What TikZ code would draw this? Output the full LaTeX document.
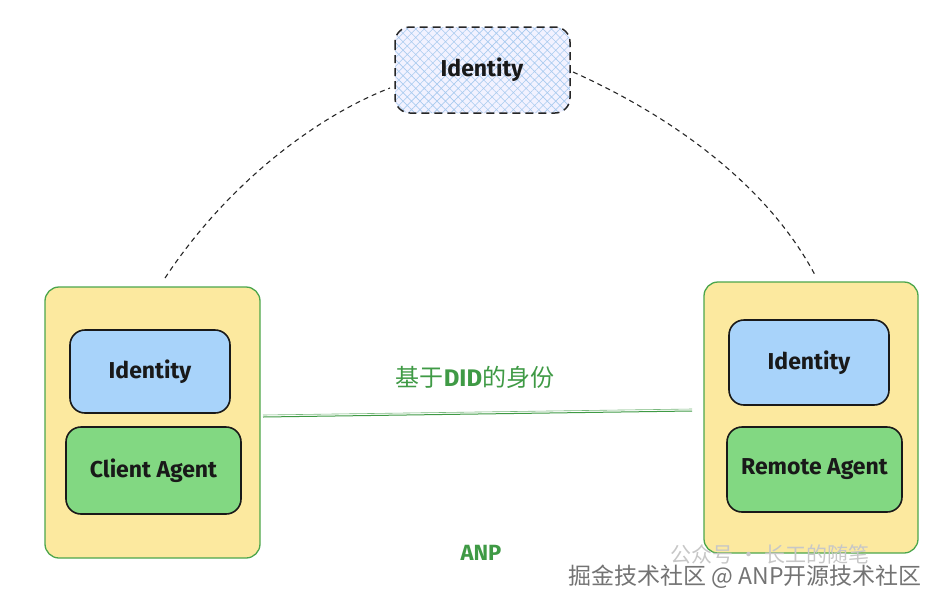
\documentclass[tikz,border=0pt]{standalone}
\usepackage{fontspec}
\setmainfont{Fira Sans}
\newfontfamily\cjk{Noto Sans CJK SC}
\usetikzlibrary{patterns.meta}
\definecolor{boxyellow}{HTML}{FCE99F}
\definecolor{boxgreen}{HTML}{4CA64C}
\definecolor{idblue}{HTML}{A8D3FA}
\definecolor{agentgreen}{HTML}{82D882}
\definecolor{hatchblue}{HTML}{A9CBEF}
\definecolor{labelgreen}{HTML}{3F9A45}
\begin{document}
\begin{tikzpicture}[x=1pt,y=-1pt,
  outerbox/.style={draw=boxgreen,fill=boxyellow,line width=1.3pt,rounded corners=14pt},
  idbox/.style={draw=black!90,fill=idblue,line width=1.6pt,rounded corners=15pt},
  agentbox/.style={draw=black!90,fill=agentgreen,line width=1.6pt,rounded corners=15pt},
  boxtext/.style={font=\bfseries\fontsize{23}{27}\selectfont,text=black!90},
  dashlink/.style={dashed,dash pattern=on 5pt off 4pt,line width=1.1pt,black!85}]
\useasboundingbox (0,0) rectangle (948,606);
% top identity
\path[fill=blue!5,rounded corners=15pt] (395,27) rectangle (570,113);
\path[pattern={Hatch[angle=45,distance=6pt,line width=0.6pt]},pattern color=hatchblue,rounded corners=15pt] (395,27) rectangle (570,113);
\draw[dashlink,line width=1.5pt,dash pattern=on 8pt off 5pt,rounded corners=15pt] (395,27) rectangle (570,113);
\node[boxtext] (topid) at (482,70) {Identity};
\coordinate (topL) at (390,88);
\coordinate (topR) at (573,72);
% left group
\node[outerbox,minimum width=215pt,minimum height=271pt] (leftouter) at (152.5,422.5) {};
\node[idbox,minimum width=160pt,minimum height=83pt] (leftid) at (150,371.5) {};
\node[boxtext] at (leftid.center) {Identity};
\node[agentbox,minimum width=175pt,minimum height=87pt] (client) at (153.5,470.5) {};
\node[boxtext] at (client.center) {Client Agent};
% right group
\node[outerbox,minimum width=214pt,minimum height=271pt] (rightouter) at (811,417.5) {};
\node[idbox,minimum width=160pt,minimum height=85pt] (rightid) at (809,362.5) {};
\node[boxtext] at (rightid.center) {Identity};
\node[agentbox,minimum width=175pt,minimum height=85pt] (remote) at (814.5,469.5) {};
\node[boxtext] at (remote.center) {Remote Agent};
% dashed curves
\coordinate (lc) at (165,278);
\coordinate (rc) at (815,275);
\draw[dashlink] (lc) .. controls (230,180) and (320,115) .. (topL);
\draw[dashlink] (topR) .. controls (680,120) and (770,190) .. (rc);
% link
\coordinate (la) at (263,417);
\coordinate (ra) at (692,411);
\draw[labelgreen,line width=1pt] (la) -- (ra);
\draw[labelgreen!70,line width=0.6pt] ([yshift=2pt]la) -- ([yshift=2pt]ra);
\node[text=labelgreen,font=\fontsize{24}{28}\selectfont] (didlabel) at (475,377) {{\cjk 基于}\textbf{DID}{\cjk 的身份}};
\node[text=labelgreen,font=\bfseries\fontsize{22}{26}\selectfont] (anp) at (481,553) {ANP};
% watermark
\node[text=black!22,font=\cjk\fontsize{21}{24}\selectfont] (wm2) at (770,554) {公众号 · 长工的随笔};
\node[text=black!55,font=\cjk\fontsize{23}{26}\selectfont] (wm) at (745,577) {掘金技术社区 @ ANP开源技术社区};
\end{tikzpicture}
\end{document}
